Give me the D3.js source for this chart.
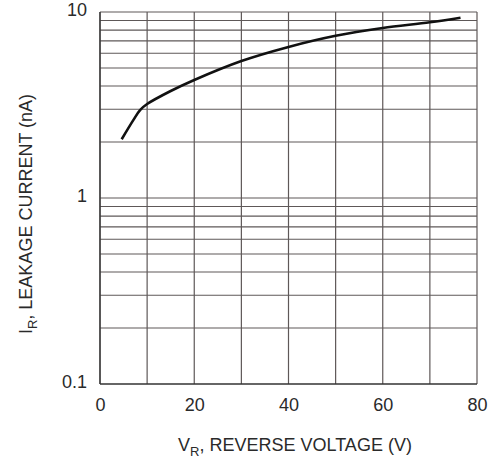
<!DOCTYPE html>
<html>
<head>
<meta charset="utf-8">
<script src="https://cdn.jsdelivr.net/npm/d3@7"></script>
<style>
  body { margin: 0; background: #fff; }
  svg { display: block; font-family: "Liberation Sans", Arial, sans-serif; }
</style>
</head>
<body>
<svg id="visualization" width="494" height="462"></svg>
<script>
// reverse voltage (V) vs leakage current (nA)
const voltage = [4.6, 7.1, 8.5, 10, 15, 20, 30, 40, 50, 60, 70, 76.5];
const current = [2.07, 2.63, 2.97, 3.2, 3.76, 4.31, 5.45, 6.49, 7.45, 8.2, 8.8, 9.32];

const xTicks = [0, 20, 40, 60, 80];
const xGrid = [0, 10, 20, 30, 40, 50, 60, 70, 80];
const yTicks = [0.1, 1, 10];
const yGrid = [0.2, 0.3, 0.4, 0.5, 0.6, 0.7, 0.8, 0.9, 1, 2, 3, 4, 5, 6, 7, 8, 9, 10];

const svg = d3.select("#visualization");

const xScale = d3.scaleLinear()
    .domain([0, 80])
    .range([100, 477]);
const yScale = d3.scaleLog()
    .domain([0.1, 10])
    .range([384, 12]);

// grid
svg.append("g")
    .selectAll("line")
    .data(xGrid)
    .join("line")
    .attr("x1", d => xScale(d))
    .attr("x2", d => xScale(d))
    .attr("y1", yScale(0.1))
    .attr("y2", yScale(10))
    .attr("stroke", "#5e5858")
    .attr("stroke-width", 1.2);

svg.append("g")
    .selectAll("line")
    .data(yGrid)
    .join("line")
    .attr("x1", xScale(0))
    .attr("x2", xScale(80))
    .attr("y1", d => yScale(d))
    .attr("y2", d => yScale(d))
    .attr("stroke", "#5e5858")
    .attr("stroke-width", 1.2);

// frame lines a bit darker
svg.append("line")
    .attr("x1", xScale(0)).attr("x2", xScale(0))
    .attr("y1", yScale(0.1)).attr("y2", yScale(10))
    .attr("stroke", "#333").attr("stroke-width", 1.3);
svg.append("line")
    .attr("x1", xScale(0)).attr("x2", xScale(80))
    .attr("y1", yScale(0.1)).attr("y2", yScale(0.1))
    .attr("stroke", "#333").attr("stroke-width", 1.3);

// axes (labels only)
const xAxis = d3.axisBottom(xScale)
    .tickValues(xTicks)
    .tickSize(0)
    .tickPadding(14)
    .tickFormat(d3.format("d"));
svg.append("g")
    .attr("transform", `translate(0, ${yScale(0.1)})`)
    .call(xAxis)
    .call(g => g.select(".domain").remove())
    .selectAll("text")
    .attr("font-size", 18)
    .attr("font-family", "Liberation Sans, Arial, sans-serif")
    .attr("fill", "#2a2a2a");

const yAxis = d3.axisLeft(yScale)
    .tickValues(yTicks)
    .tickSize(0)
    .tickPadding(13)
    .tickFormat(d => d);
svg.append("g")
    .attr("transform", `translate(${xScale(0)}, 0)`)
    .call(yAxis)
    .call(g => g.select(".domain").remove())
    .selectAll("text")
    .attr("font-size", 18)
    .attr("font-family", "Liberation Sans, Arial, sans-serif")
    .attr("fill", "#2a2a2a")
    .attr("dy", "0.2em");

// curve
const line = d3.line()
    .x((d, i) => xScale(d))
    .y((d, i) => yScale(current[i]))
    .curve(d3.curveCatmullRom.alpha(0.5));

svg.append("path")
    .attr("d", line(voltage))
    .attr("fill", "none")
    .attr("stroke", "#111")
    .attr("stroke-width", 2.6);

// axis titles
const xTitle = svg.append("text")
    .attr("x", 295)
    .attr("y", 451)
    .attr("text-anchor", "middle")
    .attr("font-size", 18)
    .attr("fill", "#2a2a2a");
xTitle.append("tspan").text("V");
xTitle.append("tspan").attr("dy", 5).attr("font-size", 13).text("R");
xTitle.append("tspan").attr("dy", -5).text(", REVERSE VOLTAGE (V)");

const yTitle = svg.append("text")
    .attr("transform", "translate(32, 214) rotate(-90)")
    .attr("text-anchor", "middle")
    .attr("font-size", 18)
    .attr("fill", "#2a2a2a");
yTitle.append("tspan").text("I");
yTitle.append("tspan").attr("dy", 5).attr("font-size", 13).text("R");
yTitle.append("tspan").attr("dy", -5).text(", LEAKAGE CURRENT (nA)");
</script>
</body>
</html>
